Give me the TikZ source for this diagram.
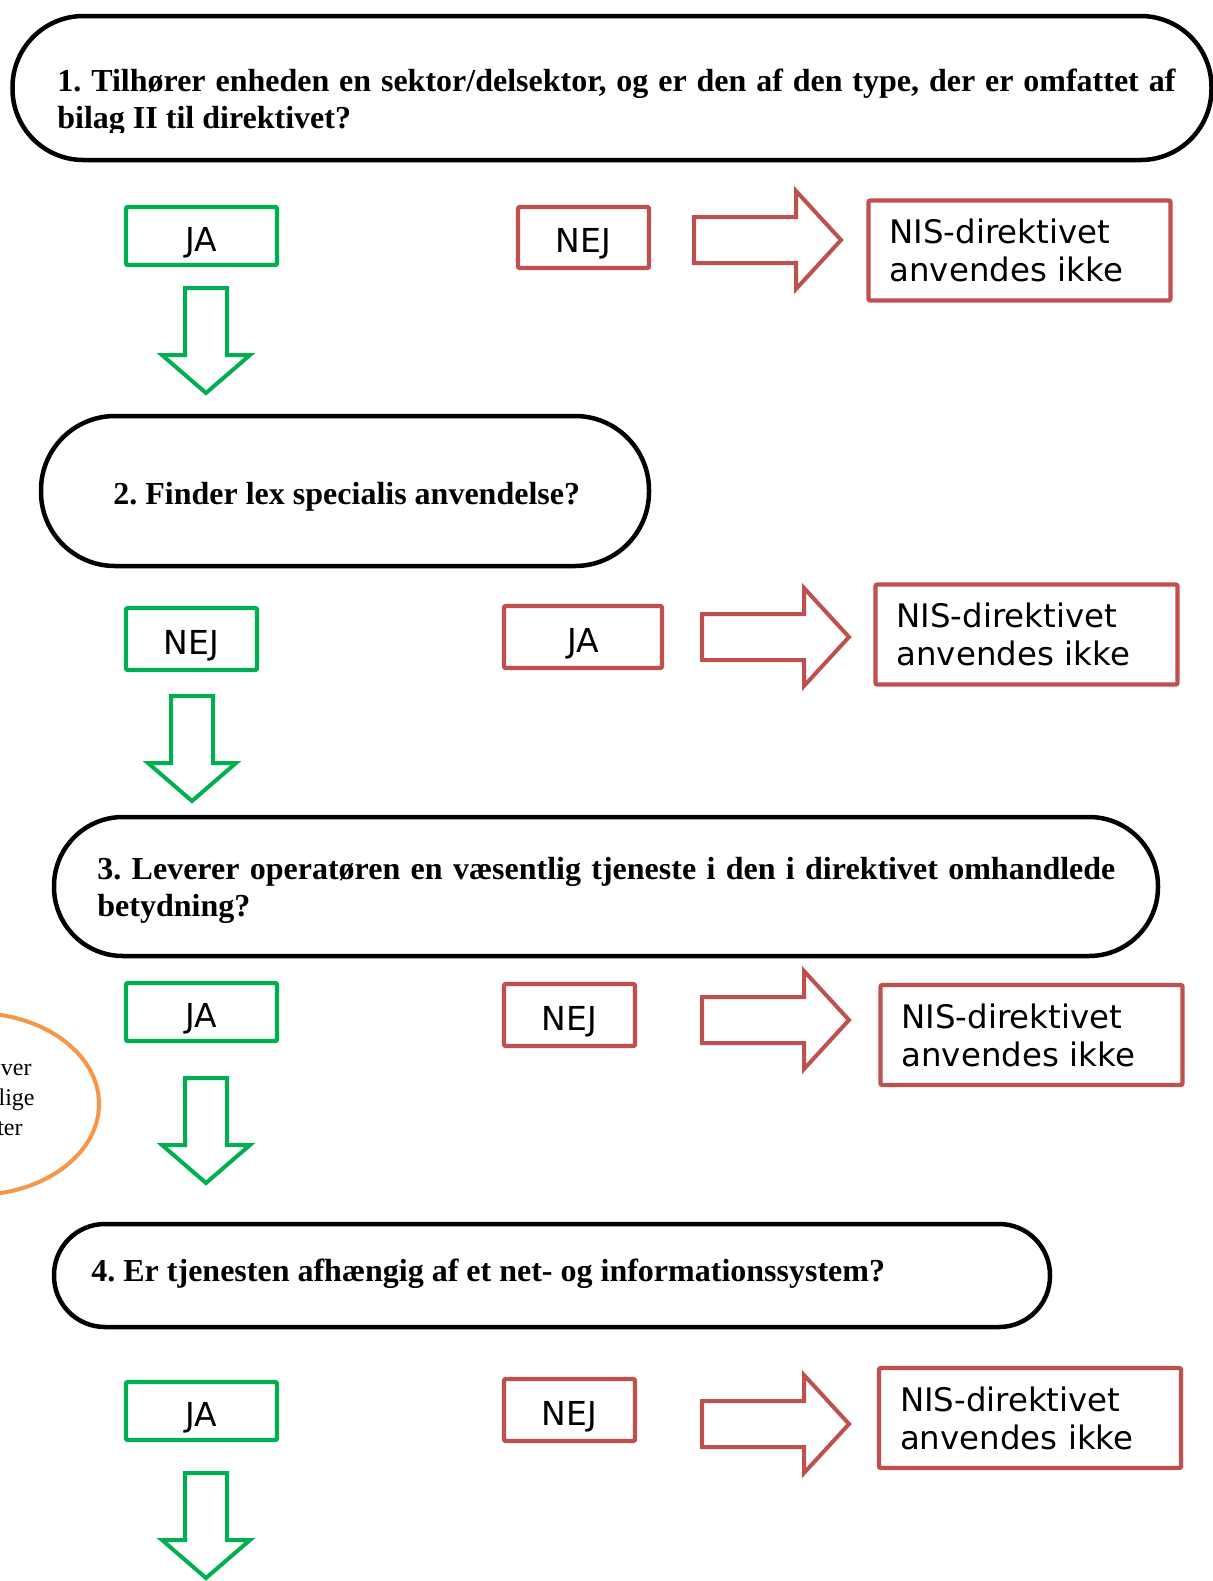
\documentclass[tikz,border=0pt]{standalone}
\usepackage{fontspec}
\setmainfont{Liberation Serif}
\newfontfamily\boxfont{DejaVu Sans}
\usetikzlibrary{shapes.geometric}
\setlength\parindent{0pt}
\frenchspacing
\definecolor{okgreen}{HTML}{00B050}
\definecolor{stopred}{HTML}{C0504D}
\definecolor{noteorange}{HTML}{F79646}

\tikzset{
  question/.style={draw=black, line width=2.25pt, inner sep=0pt},
  qtext/.style={anchor=base west, inner sep=0pt, align=justify,
    font=\fontsize{16pt}{18.5pt}\selectfont\bfseries},
  answer/.style={line width=2.2pt, rounded corners=1pt, inner sep=0pt,
    font=\boxfont\fontsize{16.5pt}{19pt}\selectfont, text height=15pt, text depth=0pt},
  yesbox/.style={answer, draw=okgreen},
  nobox/.style={answer, draw=stopred},
  outcome/.style={draw=stopred, line width=2.2pt, rounded corners=1pt,
    inner xsep=10.5pt, inner ysep=0pt, text width=130pt, minimum height=50pt, align=left,
    font=\boxfont\fontsize{16.2pt}{19pt}\selectfont},
  notetext/.style={anchor=base east, inner sep=0pt, font=\fontsize{12pt}{15pt}\selectfont},
  fat/.style={line width=2pt, line join=miter, fill=white},
  pics/stoparrow/.style={code={
    \draw[fat, draw=stopred] (0,-23) -- (102,-23) -- (102,-49) -- (147,0)
      -- (102,49) -- (102,23) -- (0,23) -- cycle;}},
  pics/goarrow/.style={code={
    \draw[fat, draw=okgreen] (-21,0) -- (21,0) -- (21,67) -- (44,67) -- (0,105)
      -- (-44,67) -- (-21,67) -- cycle;}}
}

\begin{document}
\begin{tikzpicture}[x=0.5pt, y=-0.5pt]
\useasboundingbox[fill=white] (0,0) rectangle (1213,1581);

% side note, mostly outside the page
\node[draw=noteorange, line width=2pt, ellipse, minimum width=124pt,
  minimum height=91pt, inner sep=0pt] (note) at (-25,1104) {};
\node[notetext] (note1) at (32,1075) {ver};
\node[notetext] (note2) at (35,1105) {lige};
\node[notetext] (note3) at (23,1135) {ter};

% question 1
\node[question, rounded corners=35.5pt, minimum width=599.5pt, minimum height=72pt] (q1) at (612,88) {};
\begin{scope}
  \clip (0,0) rectangle (1213,132);
  \node[qtext, text width=559pt] (q1t) at (57,91)
    {1. Tilhører enheden en sektor/delsektor, og er den af den type, der er omfattet af\linebreak bilag II til direktivet?};
\end{scope}
\node[yesbox, minimum width=75.5pt, minimum height=29pt] (y1) at (201.5,236) {JA};
\node[nobox, minimum width=65.5pt, minimum height=30.5pt] (n1) at (583.5,237.5) {NEJ};
\node[outcome] (r1) at (1019.5,250.5) {NIS-direktivet\\anvendes ikke};
\pic (s1) at (694,240) {stoparrow};
\pic (d1) at (206,288) {goarrow};

% question 2
\node[question, rounded corners=37pt, minimum width=304pt, minimum height=75pt] (q2) at (345,491) {};
\node[qtext] (q2t) at (113,504) {2. Finder lex specialis anvendelse?};
\node[yesbox, minimum width=65.5pt, minimum height=31pt] (y2) at (191.5,639) {NEJ};
\node[nobox, minimum width=79pt, minimum height=31pt] (n2) at (583,637) {JA};
\node[outcome] (r2) at (1026.5,634.5) {NIS-direktivet\\anvendes ikke};
\pic (s2) at (702,637) {stoparrow};
\pic (d2) at (192,696) {goarrow};

% question 3
\node[question, rounded corners=34.5pt, minimum width=552pt, minimum height=69.5pt] (q3) at (606,886.5) {};
\node[qtext, text width=509pt] (q3t) at (97,879)
  {3. Leverer operatøren en væsentlig tjeneste i den i direktivet omhandlede\linebreak betydning?};
\node[yesbox, minimum width=75.5pt, minimum height=29pt] (y3) at (201.5,1012) {JA};
\node[nobox, minimum width=65.5pt, minimum height=31pt] (n3) at (569.5,1015) {NEJ};
\node[outcome] (r3) at (1031.5,1035) {NIS-direktivet\\anvendes ikke};
\pic (s3) at (702,1020) {stoparrow};
\pic (d3) at (206,1078) {goarrow};

% question 4
\node[question, rounded corners=25.5pt, minimum width=498pt, minimum height=51.5pt] (q4) at (552,1275.5) {};
\node[qtext] (q4t) at (91,1281) {4. Er tjenesten afhængig af et net- og informationssystem?};
\node[yesbox, minimum width=75.5pt, minimum height=29pt] (y4) at (201.5,1411) {JA};
\node[nobox, minimum width=65.5pt, minimum height=31pt] (n4) at (569.5,1410) {NEJ};
\node[outcome] (r4) at (1030,1418) {NIS-direktivet\\anvendes ikke};
\pic (s4) at (702,1424) {stoparrow};
\pic (d4) at (206,1473) {goarrow};
\end{tikzpicture}
\end{document}
